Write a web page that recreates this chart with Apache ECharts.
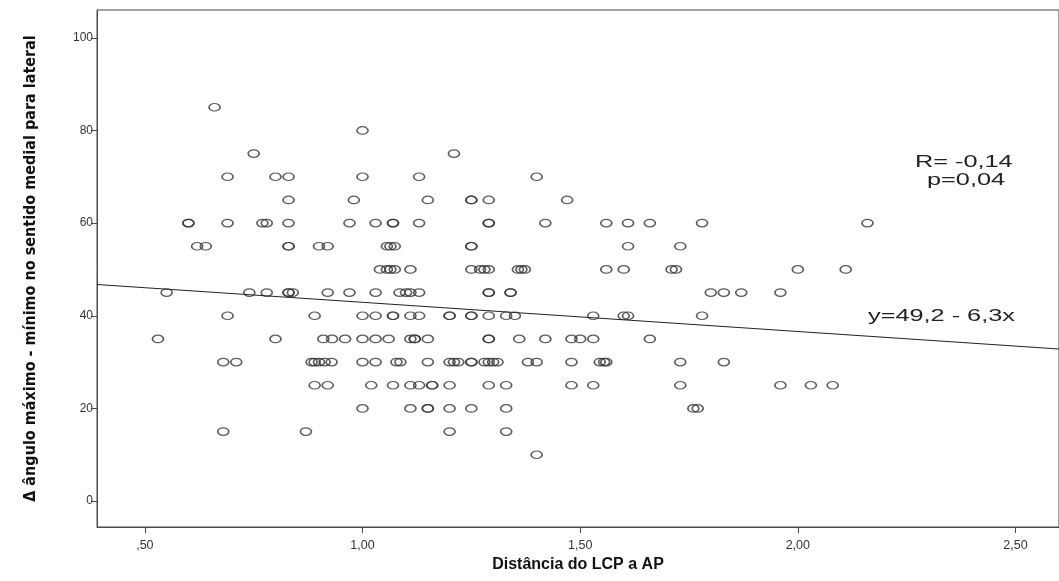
<!DOCTYPE html>
<html><head><meta charset="utf-8">
<script src="https://cdn.jsdelivr.net/npm/echarts@6/dist/echarts.min.js"></script>
<style>html,body{margin:0;padding:0;background:#fff}#c{width:1059px;height:581px}</style>
</head><body><div id="c"></div>
<script>
// Tick labels
const xTicks = [0.5, 1.0, 1.5, 2.0, 2.5];
const xTickLabels = [',50', '1,00', '1,50', '2,00', '2,50'];
const yTicks = [0, 20, 40, 60, 80, 100];
const yTickLabels = ['0', '20', '40', '60', '80', '100'];

// Distância do LCP a AP for each Δ ângulo level
const at85 = [0.66];
const at80 = [1.00];
const at75 = [0.75, 1.21];
const at70 = [0.69, 0.80, 0.83, 1.00, 1.13, 1.40];
const at65 = [0.83, 0.98, 1.15, 1.25, 1.25, 1.29, 1.47];
const at60 = [0.60, 0.60, 0.69, 0.77, 0.78, 0.83, 0.97, 1.03, 1.07, 1.07, 1.13, 1.29, 1.29, 1.42, 1.56, 1.61, 1.66, 1.78, 2.16];
const at55 = [0.62, 0.64, 0.83, 0.83, 0.90, 0.92, 1.056, 1.064, 1.074, 1.25, 1.25, 1.61, 1.73];
const at50 = [1.04, 1.056, 1.064, 1.074, 1.11, 1.25, 1.27, 1.28, 1.29, 1.357, 1.365, 1.373, 1.56, 1.60, 1.71, 1.72, 2.00, 2.11];
const at45 = [0.55, 0.74, 0.78, 0.83, 0.83, 0.84, 0.92, 0.97, 1.03, 1.085, 1.10, 1.11, 1.13, 1.29, 1.29, 1.34, 1.34, 1.80, 1.83, 1.87, 1.96];
const at40 = [0.69, 0.89, 1.00, 1.03, 1.07, 1.07, 1.11, 1.13, 1.20, 1.20, 1.25, 1.25, 1.29, 1.33, 1.35, 1.53, 1.60, 1.61, 1.78];
const at35 = [0.53, 0.80, 0.91, 0.93, 0.96, 1.00, 1.03, 1.06, 1.11, 1.12, 1.12, 1.15, 1.29, 1.29, 1.36, 1.42, 1.48, 1.50, 1.53, 1.66];
const at30 = [0.68, 0.71, 0.883, 0.89, 0.90, 0.913, 0.929, 1.00, 1.03, 1.078, 1.087, 1.15, 1.20, 1.21, 1.22, 1.25, 1.25, 1.28, 1.29, 1.30, 1.31, 1.38, 1.40, 1.48, 1.545, 1.555, 1.56, 1.73, 1.83];
const at25 = [0.89, 0.92, 1.02, 1.07, 1.11, 1.13, 1.16, 1.16, 1.20, 1.29, 1.33, 1.48, 1.53, 1.73, 1.96, 2.03, 2.08];
const at20 = [1.00, 1.11, 1.15, 1.15, 1.20, 1.25, 1.33, 1.76, 1.77];
const at15 = [0.68, 0.87, 1.20, 1.33];
const at10 = [1.40];

const levelValues = [85, 80, 75, 70, 65, 60, 55, 50, 45, 40, 35, 30, 25, 20, 15, 10];
const levelDistances = [at85, at80, at75, at70, at65, at60, at55, at50, at45, at40, at35, at30, at25, at20, at15, at10];

// Fit line reported on the chart: y = 49,2 - 6,3x
const fitIntercept = 49.2;
const fitSlope = -6.3;

const xMin = 0.39, xMax = 2.60, yMin = -5.6, yMax = 106;

const points = [];
levelDistances.forEach((arr, i) => arr.forEach(d => points.push([d, levelValues[i]])));
const fitLine = [[xMin, fitIntercept + fitSlope * xMin], [xMax, fitIntercept + fitSlope * xMax]];

const chart = echarts.init(document.getElementById('c'), null, {renderer: 'canvas'});
const axisColor = '#4a4a4a';
chart.setOption({
  animation: false,
  backgroundColor: '#ffffff',
  grid: {left: 97, top: 10, right: -2, bottom: 54, show: true, borderColor: axisColor, borderWidth: 1, backgroundColor: 'transparent'},
  xAxis: {
    type: 'value', min: xMin, max: xMax,
    name: 'Distância do LCP a AP', nameLocation: 'middle', nameGap: 29,
    nameTextStyle: {fontFamily: 'Liberation Sans', fontWeight: 'bold', fontSize: 16, color: '#111'},
    axisLine: {show: true, onZero: false, lineStyle: {color: axisColor}},
    axisTick: {show: true, length: 6, lineStyle: {color: axisColor}, customValues: xTicks},
    axisLabel: {customValues: xTicks, margin: 12, fontFamily: 'Liberation Sans', fontSize: 12.5, color: '#333',
      formatter: v => { const i = xTicks.findIndex(t => Math.abs(t - v) < 1e-6); return i >= 0 ? xTickLabels[i] : ''; }},
    splitLine: {show: false}
  },
  yAxis: {
    type: 'value', min: yMin, max: yMax,
    name: 'Δ ângulo máximo - mínimo no sentido medial para lateral', nameLocation: 'middle', nameGap: 58, nameRotate: 90,
    nameTextStyle: {fontFamily: '"Liberation Sans Narrow", "DejaVu Sans Condensed", "Roboto Condensed", sans-serif', fontWeight: 'bold', fontSize: 16, color: '#111'},
    axisLine: {show: true, onZero: false, lineStyle: {color: axisColor}},
    axisTick: {show: true, length: 6, lineStyle: {color: axisColor}, customValues: yTicks},
    axisLabel: {customValues: yTicks, margin: 4, fontFamily: 'Liberation Sans', fontSize: 12, color: '#333',
      formatter: v => { const i = yTicks.findIndex(t => Math.abs(t - v) < 1e-6); return i >= 0 ? yTickLabels[i] : ''; }},
    splitLine: {show: false}
  },
  series: [
    {type: 'line', data: fitLine, symbol: 'none', lineStyle: {color: '#222', width: 1}, silent: true, z: 1},
    {type: 'scatter', data: points, symbol: 'circle', symbolSize: [11, 7.5],
      itemStyle: {color: 'rgba(255,255,255,0)', borderColor: '#333', borderWidth: 1.4}, z: 2}
  ],
  graphic: [
    {type: 'text', left: 915, top: 155, style: {text: 'R= -0,14', font: '16px "Liberation Sans"', fill: '#222'}, scaleX: 1.58},
    {type: 'text', left: 927, top: 173, style: {text: 'p=0,04', font: '16px "Liberation Sans"', fill: '#222'}, scaleX: 1.58},
    {type: 'text', left: 868, top: 309, style: {text: 'y=49,2 - 6,3x', font: '16px "Liberation Sans"', fill: '#222'}, scaleX: 1.58}
  ]
});
</script></body></html>
